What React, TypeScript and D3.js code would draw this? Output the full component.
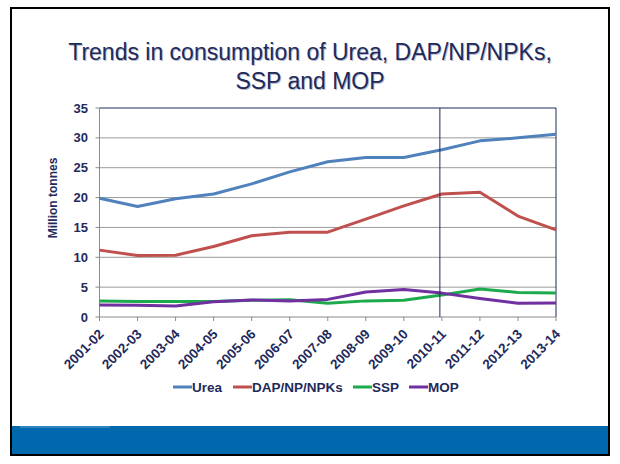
import React from "react";
import * as d3 from "d3";

const categories = ["2001-02","2002-03","2003-04","2004-05","2005-06","2006-07","2007-08","2008-09","2009-10","2010-11","2011-12","2012-13","2013-14"];
const urea = [19.9, 18.5, 19.8, 20.6, 22.3, 24.3, 26.0, 26.7, 26.7, 28.0, 29.5, 30.0, 30.6];
const dap = [11.2, 10.3, 10.35, 11.8, 13.6, 14.2, 14.2, 16.4, 18.6, 20.6, 20.9, 16.9, 14.6];
const ssp = [2.7, 2.6, 2.6, 2.6, 2.8, 2.9, 2.3, 2.7, 2.8, 3.7, 4.7, 4.1, 4.0];
const mop = [2.0, 1.95, 1.85, 2.55, 2.85, 2.7, 2.95, 4.2, 4.6, 4.0, 3.1, 2.3, 2.35];
const seriesNames = ["Urea", "DAP/NP/NPKs", "SSP", "MOP"];
const seriesValues = [urea, dap, ssp, mop];
const seriesColors = ["#4F81BD", "#C0504D", "#1DAA4C", "#7030A0"];
const yTicks = [0, 5, 10, 15, 20, 25, 30, 35];
const titleLines = ["Trends in consumption of Urea, DAP/NP/NPKs,", "SSP and MOP"];
const markerIndex = 9;

const NAVY = "#1F2A5C";
const FONT = "'Liberation Sans', Arial, Helvetica, sans-serif";

export default function App() {
  const x = d3.scalePoint<string>().domain(categories).range([99.5, 556]);
  const y = d3.scaleLinear().domain([0, 35]).range([317, 108]);
  const line = d3.line<number>().x((_, i) => x(categories[i]) as number).y((d) => y(d));
  const legendX = [173, 233, 353, 409];

  return (
    <svg width={620} height={464} style={{ position: "fixed", left: 0, top: 0, background: "#fff", fontFamily: FONT }}>
      <rect x={0} y={0} width={620} height={464} fill="#fff" />
      {/* slide border */}
      <rect x={12} y={426} width={596} height={28} fill="#0068AC" />
      <rect x={20} y={426} width={90} height={2} fill="#4A98CF" opacity={0.6} />
      <rect x={11} y={8} width={598} height={447} fill="none" stroke="#000" strokeWidth={2} />
      {/* title */}
      {titleLines.map((t, i) => (
        <g key={i}>
          <text x={311} y={61 + i * 29} textAnchor="middle" fontSize={23} fill="#B8BCC8">{t}</text>
          <text x={310} y={60 + i * 29} textAnchor="middle" fontSize={23} fill={NAVY}>{t}</text>
        </g>
      ))}
      {/* gridlines */}
      {yTicks.filter((t) => t > 0 && t < 35).map((t) => (
        <line key={t} x1={99.5} x2={556} y1={y(t)} y2={y(t)} stroke="#9A9A9A" strokeWidth={1} />
      ))}
      {/* top & right border */}
      <line x1={99.5} x2={556} y1={y(35)} y2={y(35)} stroke={NAVY} strokeWidth={1} />
      <line x1={556} x2={556} y1={y(35)} y2={y(0)} stroke={NAVY} strokeWidth={1} />
      {/* axes */}
      <line x1={99.5} x2={99.5} y1={y(35)} y2={y(0)} stroke="#8A8A8A" strokeWidth={1} />
      <line x1={99.5} x2={556} y1={y(0)} y2={y(0)} stroke="#8A8A8A" strokeWidth={1} />
      {yTicks.map((t) => (
        <g key={t}>
          <line x1={95.5} x2={99.5} y1={y(t)} y2={y(t)} stroke="#8A8A8A" />
          <text x={88} y={y(t) + 4.5} textAnchor="end" fontSize={13} fontWeight="bold" fill={NAVY}>{t}</text>
        </g>
      ))}
      {categories.map((c) => (
        <g key={c}>
          <line x1={x(c)} x2={x(c)} y1={y(0)} y2={y(0) + 4} stroke="#8A8A8A" />
          <text transform={`translate(${(x(c) as number) + 5},${y(0) + 18}) rotate(-45)`} textAnchor="end" fontSize={13.5} fontWeight="bold" fill={NAVY}>{c}</text>
        </g>
      ))}
      <text transform={`translate(57,198) rotate(-90)`} textAnchor="middle" fontSize={12} fontWeight="bold" fill={NAVY}>Million tonnes</text>
      {/* series */}
      {seriesValues.map((vals, i) => (
        <path key={i} d={line(vals) as string} fill="none" stroke={seriesColors[i]} strokeWidth={3} strokeLinejoin="round" />
      ))}
      {/* marker line */}
      <line x1={(x(categories[markerIndex]) as number) - 2} x2={(x(categories[markerIndex]) as number) - 2} y1={y(35)} y2={y(0)} stroke={NAVY} strokeWidth={1} />
      {/* legend */}
      {seriesNames.map((n, i) => (
        <g key={n}>
          <line x1={legendX[i]} x2={legendX[i] + 19} y1={387} y2={387} stroke={seriesColors[i]} strokeWidth={3} />
          <text x={legendX[i] + 19} y={392} fontSize={13.5} fontWeight="bold" fill={NAVY}>{n}</text>
        </g>
      ))}
    </svg>
  );
}
